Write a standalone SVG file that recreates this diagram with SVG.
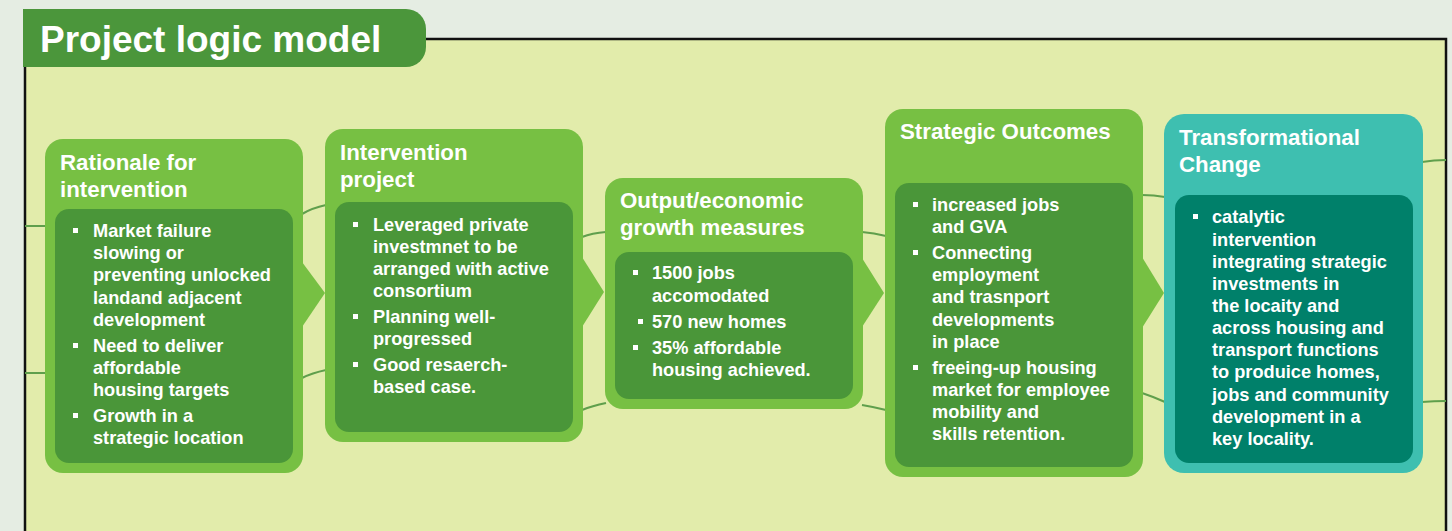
<svg xmlns="http://www.w3.org/2000/svg" width="1452" height="531" viewBox="0 0 1452 531">
<style>
.ttl{font-family:"Liberation Sans",Arial,sans-serif;font-weight:bold;fill:#fff;font-size:22.3px}
.bt{font-family:"Liberation Sans",Arial,sans-serif;font-weight:bold;fill:#fff;font-size:18.2px}
.og{fill:#77c043}
.ig{fill:#4a9639}
.ot{fill:#3ebfb0}
.it{fill:#00806a}
.bl{fill:#fff}
.con{fill:none;stroke:#5f9f4c;stroke-width:2.2}
</style>
<rect x="0" y="0" width="1452" height="531" fill="#e5ede3"/>
<rect x="25" y="39" width="1421" height="530" fill="#e2ecab" stroke="#111" stroke-width="2.5"/>
<g id="title">
<path d="M23 9 H406 A20 20 0 0 1 426 29 V47 A20 20 0 0 1 406 67 H23 Z" fill="#4b963b"/>
<text x="40" y="52" font-family="'Liberation Sans',Arial,sans-serif" font-weight="bold" font-size="37px" fill="#fff">Project logic model</text>
</g>
<g id="connectors">
<path class="con" d="M25 226 L46 226 M302 214 Q312 208 326 205 M582 237 Q592 233 606 232 M862 232 Q874 233 886 236 M1142 195 Q1154 195 1165 197 M1422 162 Q1434 160 1446 160"/>
<path class="con" d="M25 373 L46 373 M302 378 Q312 373 326 370 M582 410 Q592 406 606 403 M862 405 Q874 407 886 410 M1142 393 Q1154 397 1165 402 M1422 402 Q1434 401 1446 401"/>
</g>
<g id="rationale">
<rect class="og" x="45" y="139" width="258" height="334" rx="18"/>
<polygon class="og" points="302,262 325,293 302,327"/>
<rect class="ig" x="55" y="209" width="238" height="254" rx="14"/>
<text class="ttl"><tspan x="60" y="170">Rationale for</tspan><tspan x="60" y="197">intervention</tspan></text>
<rect class="bl" x="73" y="228" width="5" height="5"/>
<rect class="bl" x="73" y="343" width="5" height="5"/>
<rect class="bl" x="73" y="413" width="5" height="5"/>
<text class="bt"><tspan x="93" y="237">Market failure</tspan><tspan x="93" y="259">slowing or</tspan><tspan x="93" y="281">preventing unlocked</tspan><tspan x="93" y="304">landand adjacent</tspan><tspan x="93" y="326">development</tspan><tspan x="93" y="352">Need to deliver</tspan><tspan x="93" y="374">affordable</tspan><tspan x="93" y="396">housing targets</tspan><tspan x="93" y="422">Growth in a</tspan><tspan x="93" y="444">strategic location</tspan></text>
</g>
<g id="intervention">
<rect class="og" x="325" y="129" width="258" height="313" rx="18"/>
<polygon class="og" points="582,257 604,292 582,327"/>
<rect class="ig" x="335" y="202" width="238" height="230" rx="14"/>
<text class="ttl"><tspan x="340" y="160">Intervention</tspan><tspan x="340" y="187">project</tspan></text>
<rect class="bl" x="353" y="222" width="5" height="5"/>
<rect class="bl" x="353" y="314" width="5" height="5"/>
<rect class="bl" x="353" y="362" width="5" height="5"/>
<text class="bt"><tspan x="373" y="231">Leveraged private</tspan><tspan x="373" y="253">investmnet to be</tspan><tspan x="373" y="275">arranged with active</tspan><tspan x="373" y="297">consortium</tspan><tspan x="373" y="323">Planning well-</tspan><tspan x="373" y="345">progressed</tspan><tspan x="373" y="371">Good resaerch-</tspan><tspan x="373" y="393">based case.</tspan></text>
</g>
<g id="output">
<rect class="og" x="605" y="178" width="258" height="231" rx="18"/>
<polygon class="og" points="862,258 884,293 862,327"/>
<rect class="ig" x="615" y="252" width="238" height="147" rx="14"/>
<text class="ttl"><tspan x="620" y="208">Output/economic</tspan><tspan x="620" y="235">growth measures</tspan></text>
<rect class="bl" x="633" y="270" width="5" height="5"/>
<rect class="bl" x="638" y="319" width="5" height="5"/>
<rect class="bl" x="633" y="345" width="5" height="5"/>
<text class="bt"><tspan x="652" y="279">1500 jobs</tspan><tspan x="652" y="302">accomodated</tspan><tspan x="652" y="328">570 new homes</tspan><tspan x="652" y="354">35% affordable</tspan><tspan x="652" y="376">housing achieved.</tspan></text>
</g>
<g id="strategic">
<rect class="og" x="885" y="109" width="258" height="368" rx="18"/>
<polygon class="og" points="1142,257 1164,293 1142,328"/>
<rect class="ig" x="895" y="183" width="238" height="284" rx="14"/>
<text class="ttl"><tspan x="900" y="139">Strategic Outcomes</tspan></text>
<rect class="bl" x="913" y="202" width="5" height="5"/>
<rect class="bl" x="913" y="250" width="5" height="5"/>
<rect class="bl" x="913" y="365" width="5" height="5"/>
<text class="bt"><tspan x="932" y="211">increased jobs</tspan><tspan x="932" y="233">and GVA</tspan><tspan x="932" y="259">Connecting</tspan><tspan x="932" y="281">employment</tspan><tspan x="932" y="303">and trasnport</tspan><tspan x="932" y="326">developments</tspan><tspan x="932" y="348">in place</tspan><tspan x="932" y="374">freeing-up housing</tspan><tspan x="932" y="396">market for employee</tspan><tspan x="932" y="418">mobility and</tspan><tspan x="932" y="440">skills retention.</tspan></text>
</g>
<g id="transformational">
<rect class="ot" x="1164" y="114" width="259" height="359" rx="20"/>
<rect class="it" x="1175" y="195" width="238" height="268" rx="14"/>
<text class="ttl"><tspan x="1179" y="145">Transformational</tspan><tspan x="1179" y="172">Change</tspan></text>
<rect class="bl" x="1193" y="214" width="5" height="5"/>
<text class="bt"><tspan x="1212" y="223">catalytic</tspan><tspan x="1212" y="246">intervention</tspan><tspan x="1212" y="268">integrating strategic</tspan><tspan x="1212" y="290">investments in</tspan><tspan x="1212" y="312">the locaity and</tspan><tspan x="1212" y="334">across housing and</tspan><tspan x="1212" y="356">transport functions</tspan><tspan x="1212" y="378">to produice homes,</tspan><tspan x="1212" y="401">jobs and community</tspan><tspan x="1212" y="423">development in a</tspan><tspan x="1212" y="445">key locality.</tspan></text>
</g>
</svg>
